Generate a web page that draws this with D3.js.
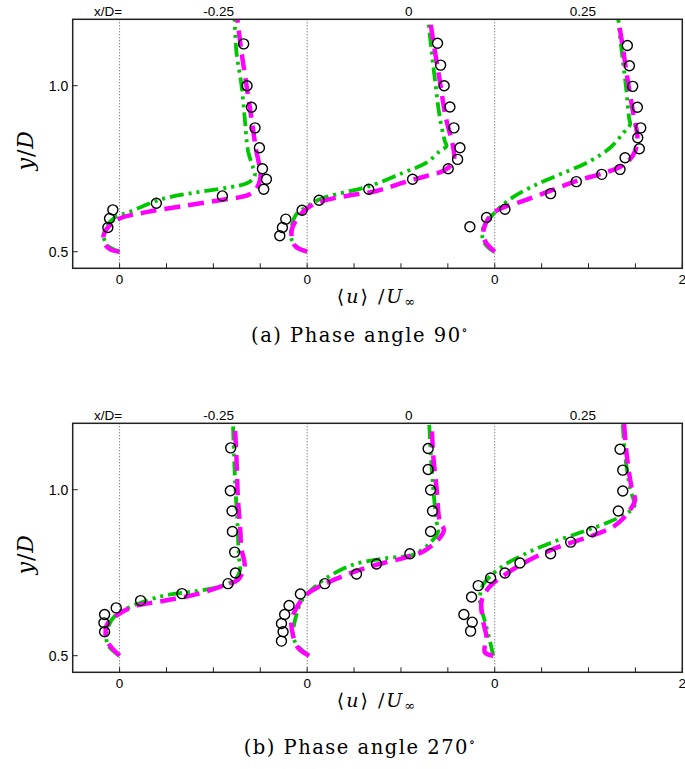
<!DOCTYPE html>
<html><head><meta charset="utf-8">
<script src="https://cdn.jsdelivr.net/npm/d3@7"></script>
<style>body{margin:0;background:#fff}svg{display:block}</style>
</head><body>
<script>
// ---------- DATA ----------
const stations = ["-0.25", "0", "0.25"];          // x/D of each profile
const profileOffsets = [0, 2, 4];                 // global x offset of each profile
const xTickValues = [0, 2, 4, 6];
const xTickLabels = ["0", "0", "0", "2"];
const yTickValues = [0.5, 1.0];
const yTickLabels = ["0.5", "1.0"];
const captions = ["(a) Phase angle 90", "(b) Phase angle 270"];

// Panel (a) phase 90 — experiment circles [u, y]
const expA1 = [[1.323,1.126],[1.359,1.0],[1.406,0.935],[1.444,0.873],[1.491,0.813],[1.523,0.75],[1.566,0.718],[1.537,0.688],[1.096,0.668],[0.392,0.646],[-0.072,0.626],[-0.107,0.6],[-0.125,0.573]];
const expA2 = [[1.39,1.128],[1.423,1.062],[1.461,1.0],[1.522,0.936],[1.565,0.873],[1.629,0.813],[1.604,0.778],[1.504,0.75],[1.124,0.718],[0.657,0.688],[0.127,0.655],[-0.054,0.625],[-0.228,0.598],[-0.264,0.573],[-0.292,0.548]];
const expA3 = [[1.414,1.121],[1.436,1.06],[1.471,0.998],[1.521,0.935],[1.557,0.873],[1.525,0.843],[1.542,0.81],[1.39,0.783],[1.336,0.748],[1.141,0.733],[0.87,0.711],[0.596,0.675],[0.109,0.628],[-0.087,0.603],[-0.265,0.575]];
// Panel (a) — magenta dashed simulation
const magA1 = [[0,0.5],[-0.1,0.507],[-0.16,0.525],[-0.17,0.55],[-0.12,0.575],[0,0.6],[0.3,0.62],[0.69,0.638],[1.085,0.656],[1.3,0.665],[1.387,0.673],[1.46,0.69],[1.5,0.72],[1.5,0.745],[1.458,0.803],[1.405,0.903],[1.352,1.003],[1.299,1.103],[1.256,1.2]];
const magA2 = [[0,0.5],[-0.132,0.518],[-0.166,0.563],[-0.097,0.603],[0.01,0.633],[0.17,0.653],[0.419,0.668],[0.739,0.683],[1.024,0.708],[1.273,0.728],[1.45,0.743],[1.54,0.763],[1.568,0.783],[1.551,0.823],[1.479,0.903],[1.415,1.013],[1.337,1.148],[1.31,1.2]];
const magA3 = [[0,0.5],[-0.105,0.533],[-0.12,0.565],[-0.033,0.613],[0.091,0.633],[0.304,0.653],[0.589,0.683],[0.874,0.713],[1.141,0.735],[1.318,0.753],[1.425,0.773],[1.497,0.803],[1.521,0.848],[1.486,0.903],[1.425,1.003],[1.372,1.103],[1.318,1.2]];
// Panel (a) — green dash-dot-dot simulation
const grnA1 = [[0,0.5],[-0.125,0.518],[-0.167,0.543],[-0.142,0.573],[-0.053,0.603],[0.089,0.618],[0.445,0.658],[0.8,0.678],[1.156,0.693],[1.37,0.708],[1.441,0.728],[1.423,0.753],[1.37,0.803],[1.334,0.903],[1.299,1.003],[1.245,1.103],[1.227,1.2]];
const grnA2 = [[0,0.5],[-0.114,0.515],[-0.168,0.538],[-0.168,0.573],[-0.114,0.613],[-0.008,0.635],[0.134,0.658],[0.313,0.673],[0.668,0.698],[1.024,0.738],[1.273,0.768],[1.415,0.803],[1.486,0.818],[1.468,0.833],[1.415,0.903],[1.369,1.003],[1.327,1.103],[1.29,1.2]];
const grnA3 = [[0,0.5],[-0.051,0.508],[-0.123,0.533],[-0.123,0.573],[-0.016,0.613],[0.162,0.658],[0.411,0.698],[0.697,0.733],[1.017,0.773],[1.23,0.813],[1.372,0.858],[1.443,0.883],[1.432,0.903],[1.397,1.003],[1.354,1.103],[1.318,1.2]];

// Panel (b) phase 270 — experiment circles
const expB1 = [[1.185,1.126],[1.181,0.997],[1.199,0.936],[1.203,0.874],[1.227,0.812],[1.235,0.749],[1.156,0.717],[0.665,0.687],[0.224,0.666],[-0.036,0.644],[-0.16,0.624],[-0.167,0.599],[-0.16,0.572]];
const expB2 = [[1.29,1.124],[1.29,1.061],[1.316,0.999],[1.337,0.936],[1.316,0.874],[1.095,0.807],[0.739,0.776],[0.526,0.746],[0.188,0.717],[-0.072,0.686],[-0.193,0.651],[-0.24,0.624],[-0.274,0.597],[-0.257,0.572],[-0.274,0.544]];
const expB3 = [[1.336,1.122],[1.365,1.059],[1.365,0.996],[1.318,0.936],[1.034,0.874],[0.81,0.842],[0.596,0.807],[0.269,0.779],[0.109,0.749],[-0.044,0.734],[-0.176,0.711],[-0.247,0.677],[-0.329,0.624],[-0.24,0.601],[-0.257,0.574]];
// Panel (b) — magenta dashed
const magB1 = [[0,0.5],[-0.125,0.539],[-0.15,0.57],[-0.125,0.599],[-0.018,0.624],[0.16,0.649],[0.445,0.664],[0.8,0.684],[1.085,0.709],[1.262,0.729],[1.316,0.754],[1.334,0.774],[1.298,0.824],[1.288,0.874],[1.262,0.974],[1.245,1.104],[1.227,1.2]];
const magB2 = [[0.02,0.5],[-0.097,0.524],[-0.15,0.56],[-0.168,0.604],[-0.114,0.644],[-0.008,0.684],[0.134,0.709],[0.419,0.744],[0.739,0.774],[1.024,0.794],[1.237,0.814],[1.397,0.849],[1.458,0.879],[1.415,0.904],[1.38,1.004],[1.344,1.104],[1.327,1.2]];
const magB3 = [[-0.016,0.5],[-0.105,0.51],[-0.105,0.53],[-0.087,0.554],[-0.123,0.604],[-0.14,0.664],[-0.051,0.709],[0.162,0.754],[0.411,0.794],[0.696,0.829],[1.016,0.859],[1.265,0.889],[1.372,0.914],[1.443,0.939],[1.496,0.969],[1.461,1.004],[1.408,1.104],[1.379,1.2]];
// Panel (b) — green dash-dot-dot
const grnB1 = [[0,0.5],[-0.12,0.53],[-0.142,0.554],[-0.125,0.584],[-0.053,0.619],[0.089,0.644],[0.445,0.679],[0.8,0.694],[1.085,0.709],[1.227,0.729],[1.281,0.754],[1.27,0.804],[1.256,0.904],[1.235,1.004],[1.22,1.104],[1.209,1.2]];
const grnB2 = [[0.02,0.5],[-0.114,0.534],[-0.15,0.564],[-0.114,0.624],[-0.061,0.664],[0.028,0.694],[0.206,0.734],[0.49,0.774],[0.846,0.794],[1.13,0.804],[1.308,0.839],[1.397,0.874],[1.38,0.904],[1.344,1.004],[1.319,1.104],[1.301,1.2]];
const grnB3 = [[-0.016,0.5],[-0.051,0.544],[-0.105,0.604],[-0.158,0.664],[-0.123,0.714],[0.055,0.764],[0.304,0.804],[0.589,0.839],[0.945,0.874],[1.23,0.904],[1.408,0.929],[1.489,0.949],[1.443,1.004],[1.39,1.104],[1.365,1.2]];

const panels = [
  {exp:[expA1,expA2,expA3], mag:[magA1,magA2,magA3], grn:[grnA1,grnA2,grnA3], caption:captions[0]},
  {exp:[expB1,expB2,expB3], mag:[magB1,magB2,magB3], grn:[grnB1,grnB2,grnB3], caption:captions[1]}
];

// ---------- LAYOUT ----------
const W = 685, H = 769;
const left = 72.7, right = 682.3, plotH = 249;
const panelTops = [19.3, 423.3];
const sans = "'Liberation Sans', Arial, Helvetica, sans-serif";
const serif = "'DejaVu Serif', 'Liberation Serif', serif";

const svg = d3.select("body").append("svg").attr("width", W).attr("height", H);
const x = d3.scaleLinear().domain([-0.5, 6]).range([left, right]);

panels.forEach((p, pi) => {
  const top = panelTops[pi], bottom = top + plotH;
  const y = d3.scaleLinear().domain([0.45, 1.2]).range([bottom, top]);
  const g = svg.append("g");
  const clipId = "clip" + pi;
  svg.append("clipPath").attr("id", clipId).append("rect")
    .attr("x", left).attr("y", top).attr("width", right - left).attr("height", plotH);

  profileOffsets.forEach(o => {
    g.append("line").attr("x1", x(o)).attr("x2", x(o)).attr("y1", top).attr("y2", bottom)
      .attr("stroke", "#555").attr("stroke-width", 1).attr("stroke-dasharray", "1,2");
  });

  const line = d3.line().x(d => d[0]).y(d => d[1]).curve(d3.curveCatmullRom.alpha(0.5));
  const plotG = g.append("g").attr("clip-path", `url(#${clipId})`);
  p.grn.forEach((arr, i) => {
    plotG.append("path").attr("d", line(arr.map(d => [x(profileOffsets[i] + d[0]), y(d[1])])))
      .attr("fill", "none").attr("stroke", "#00c800").attr("stroke-width", 3.8)
      .attr("stroke-dasharray", "14,5,3,5,3,5");
  });
  p.mag.forEach((arr, i) => {
    plotG.append("path").attr("d", line(arr.map(d => [x(profileOffsets[i] + d[0]), y(d[1])])))
      .attr("fill", "none").attr("stroke", "#ff00ff").attr("stroke-width", 4.5)
      .attr("stroke-dasharray", "16,8");
  });
  p.exp.forEach((arr, i) => {
    plotG.selectAll(null).data(arr).enter().append("circle")
      .attr("cx", d => x(profileOffsets[i] + d[0])).attr("cy", d => y(d[1]))
      .attr("r", 5).attr("fill", "none").attr("stroke", "#000").attr("stroke-width", 1.4);
  });

  g.append("rect").attr("x", left).attr("y", top).attr("width", right - left).attr("height", plotH)
    .attr("fill", "none").attr("stroke", "#222").attr("stroke-width", 1.5);

  d3.range(0, 6.01, 0.5).forEach(v => {
    g.append("line").attr("x1", x(v)).attr("x2", x(v)).attr("y1", bottom).attr("y2", bottom - 5)
      .attr("stroke", "#222").attr("stroke-width", 1);
  });
  xTickValues.forEach((v, i) => {
    g.append("text").attr("x", x(v)).attr("y", bottom + 16).attr("text-anchor", "middle")
      .attr("font-family", sans).attr("font-size", 13.5).text(xTickLabels[i]);
  });
  yTickValues.forEach((v, i) => {
    g.append("line").attr("x1", left).attr("x2", left + 5).attr("y1", y(v)).attr("y2", y(v))
      .attr("stroke", "#222").attr("stroke-width", 1);
    g.append("text").attr("x", left - 4.5).attr("y", y(v) + 4.8).attr("text-anchor", "end")
      .attr("font-family", sans).attr("font-size", 14).text(yTickLabels[i]);
  });

  g.append("text").attr("x", 108).attr("y", top - 3.5).attr("text-anchor", "middle")
    .attr("font-family", sans).attr("font-size", 13.5).text("x/D=");
  const stationX = [x(1.057), x(3.084), x(4.94)];
  stations.forEach((s, i) => {
    g.append("text").attr("x", stationX[i]).attr("y", top - 3.5).attr("text-anchor", "middle")
      .attr("font-family", sans).attr("font-size", 13.5).text(s);
  });

  const yl = g.append("text").attr("transform", `translate(33,${top + 131}) rotate(-90)`)
    .attr("text-anchor", "middle").attr("font-family", serif).attr("font-size", 22)
    .attr("letter-spacing", 1);
  yl.append("tspan").attr("font-style", "italic").text("y");
  yl.append("tspan").text("/");
  yl.append("tspan").attr("font-style", "italic").text("D");

  const xl = g.append("text").attr("x", 377).attr("y", bottom + 35).attr("text-anchor", "middle")
    .attr("font-family", serif).attr("font-size", 19).attr("letter-spacing", 2);
  xl.append("tspan").text("\u27E8");
  xl.append("tspan").attr("font-style", "italic").text("u");
  xl.append("tspan").text("\u27E9 /");
  xl.append("tspan").attr("font-style", "italic").text("U");
  xl.append("tspan").attr("font-size", 13).attr("dy", 3).text("\u221E");

  const cap = g.append("text").attr("x", 360).attr("y", bottom + (pi === 0 ? 74 : 82)).attr("text-anchor", "middle")
    .attr("font-family", serif).attr("font-size", 19.5).attr("letter-spacing", 1.5);
  cap.append("tspan").text(p.caption);
  cap.append("tspan").attr("font-size", 12).attr("dy", -8).text("\u2218");
});
</script>
</body></html>
